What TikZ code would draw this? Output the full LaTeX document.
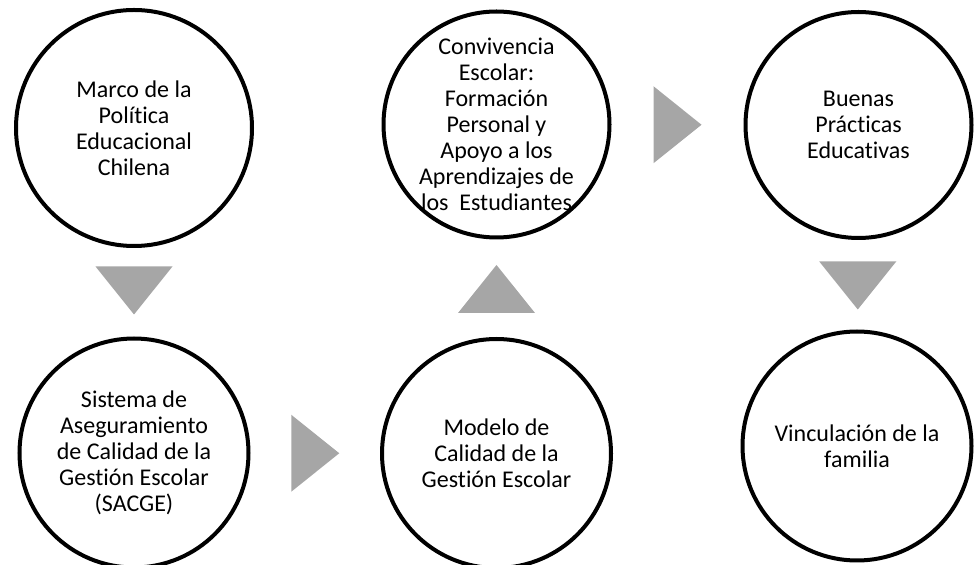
\documentclass[tikz,border=0pt]{standalone}
\usepackage{fontspec}
\setmainfont{Carlito}[Ligatures=NoCommon]
\usetikzlibrary{calc}

\definecolor{gris}{RGB}{166,166,166}

\tikzset{
	etapa/.style={circle, draw, line width=4pt, inner sep=0pt, minimum size=#1},
	texto/.style={align=center, inner sep=0pt, font=\fontsize{24}{26}\selectfont},
	flecha/.style={fill=gris, draw=none},
}

\begin{document}
\begin{tikzpicture}[x=1pt, y=1pt]
					\useasboundingbox (0,0) rectangle (975,565);
					
					\node[etapa=236pt, label={[texto]center:{Marco de la\\Política\\Educacional\\Chilena}}] (marco) at (134,437) {};
					\node[etapa=229pt, label={[texto]center:{Sistema de\\Aseguramiento\\de Calidad de la\\Gestión Escolar\\(SACGE)}}] (sistema) at (134,112) {};
					\node[etapa=229pt, label={[texto]center:{Modelo de\\Calidad de la\\Gestión Escolar}}] (modelo) at (496.5,111.5) {};
					\node[etapa=226pt, label={[texto]center:{Convivencia\\Escolar:\\Formación\\Personal y\\Apoyo a los\\Aprendizajes de\\los\ \ Estudiantes}}] (convivencia) at (496.5,440.5) {};
					\node[etapa=226pt, label={[texto]center:{Buenas\\Prácticas\\Educativas}}] (buenas) at (858.5,440) {};
					\node[etapa=229pt, label={[texto]center:{Vinculación de la\\familia}}] (vinculacion) at (857,119) {};
					
					\foreach \a/\b/\giro in {marco/sistema/-90, sistema/modelo/0, modelo/convivencia/90, convivencia/buenas/0, buenas/vinculacion/-90}
						\fill[flecha, shift={($(\a)!0.5!(\b)$)}, rotate=\giro] (24,0) -- (-24,38.5) -- (-24,-38.5) -- cycle;
				
	\end{tikzpicture}
\end{document}
